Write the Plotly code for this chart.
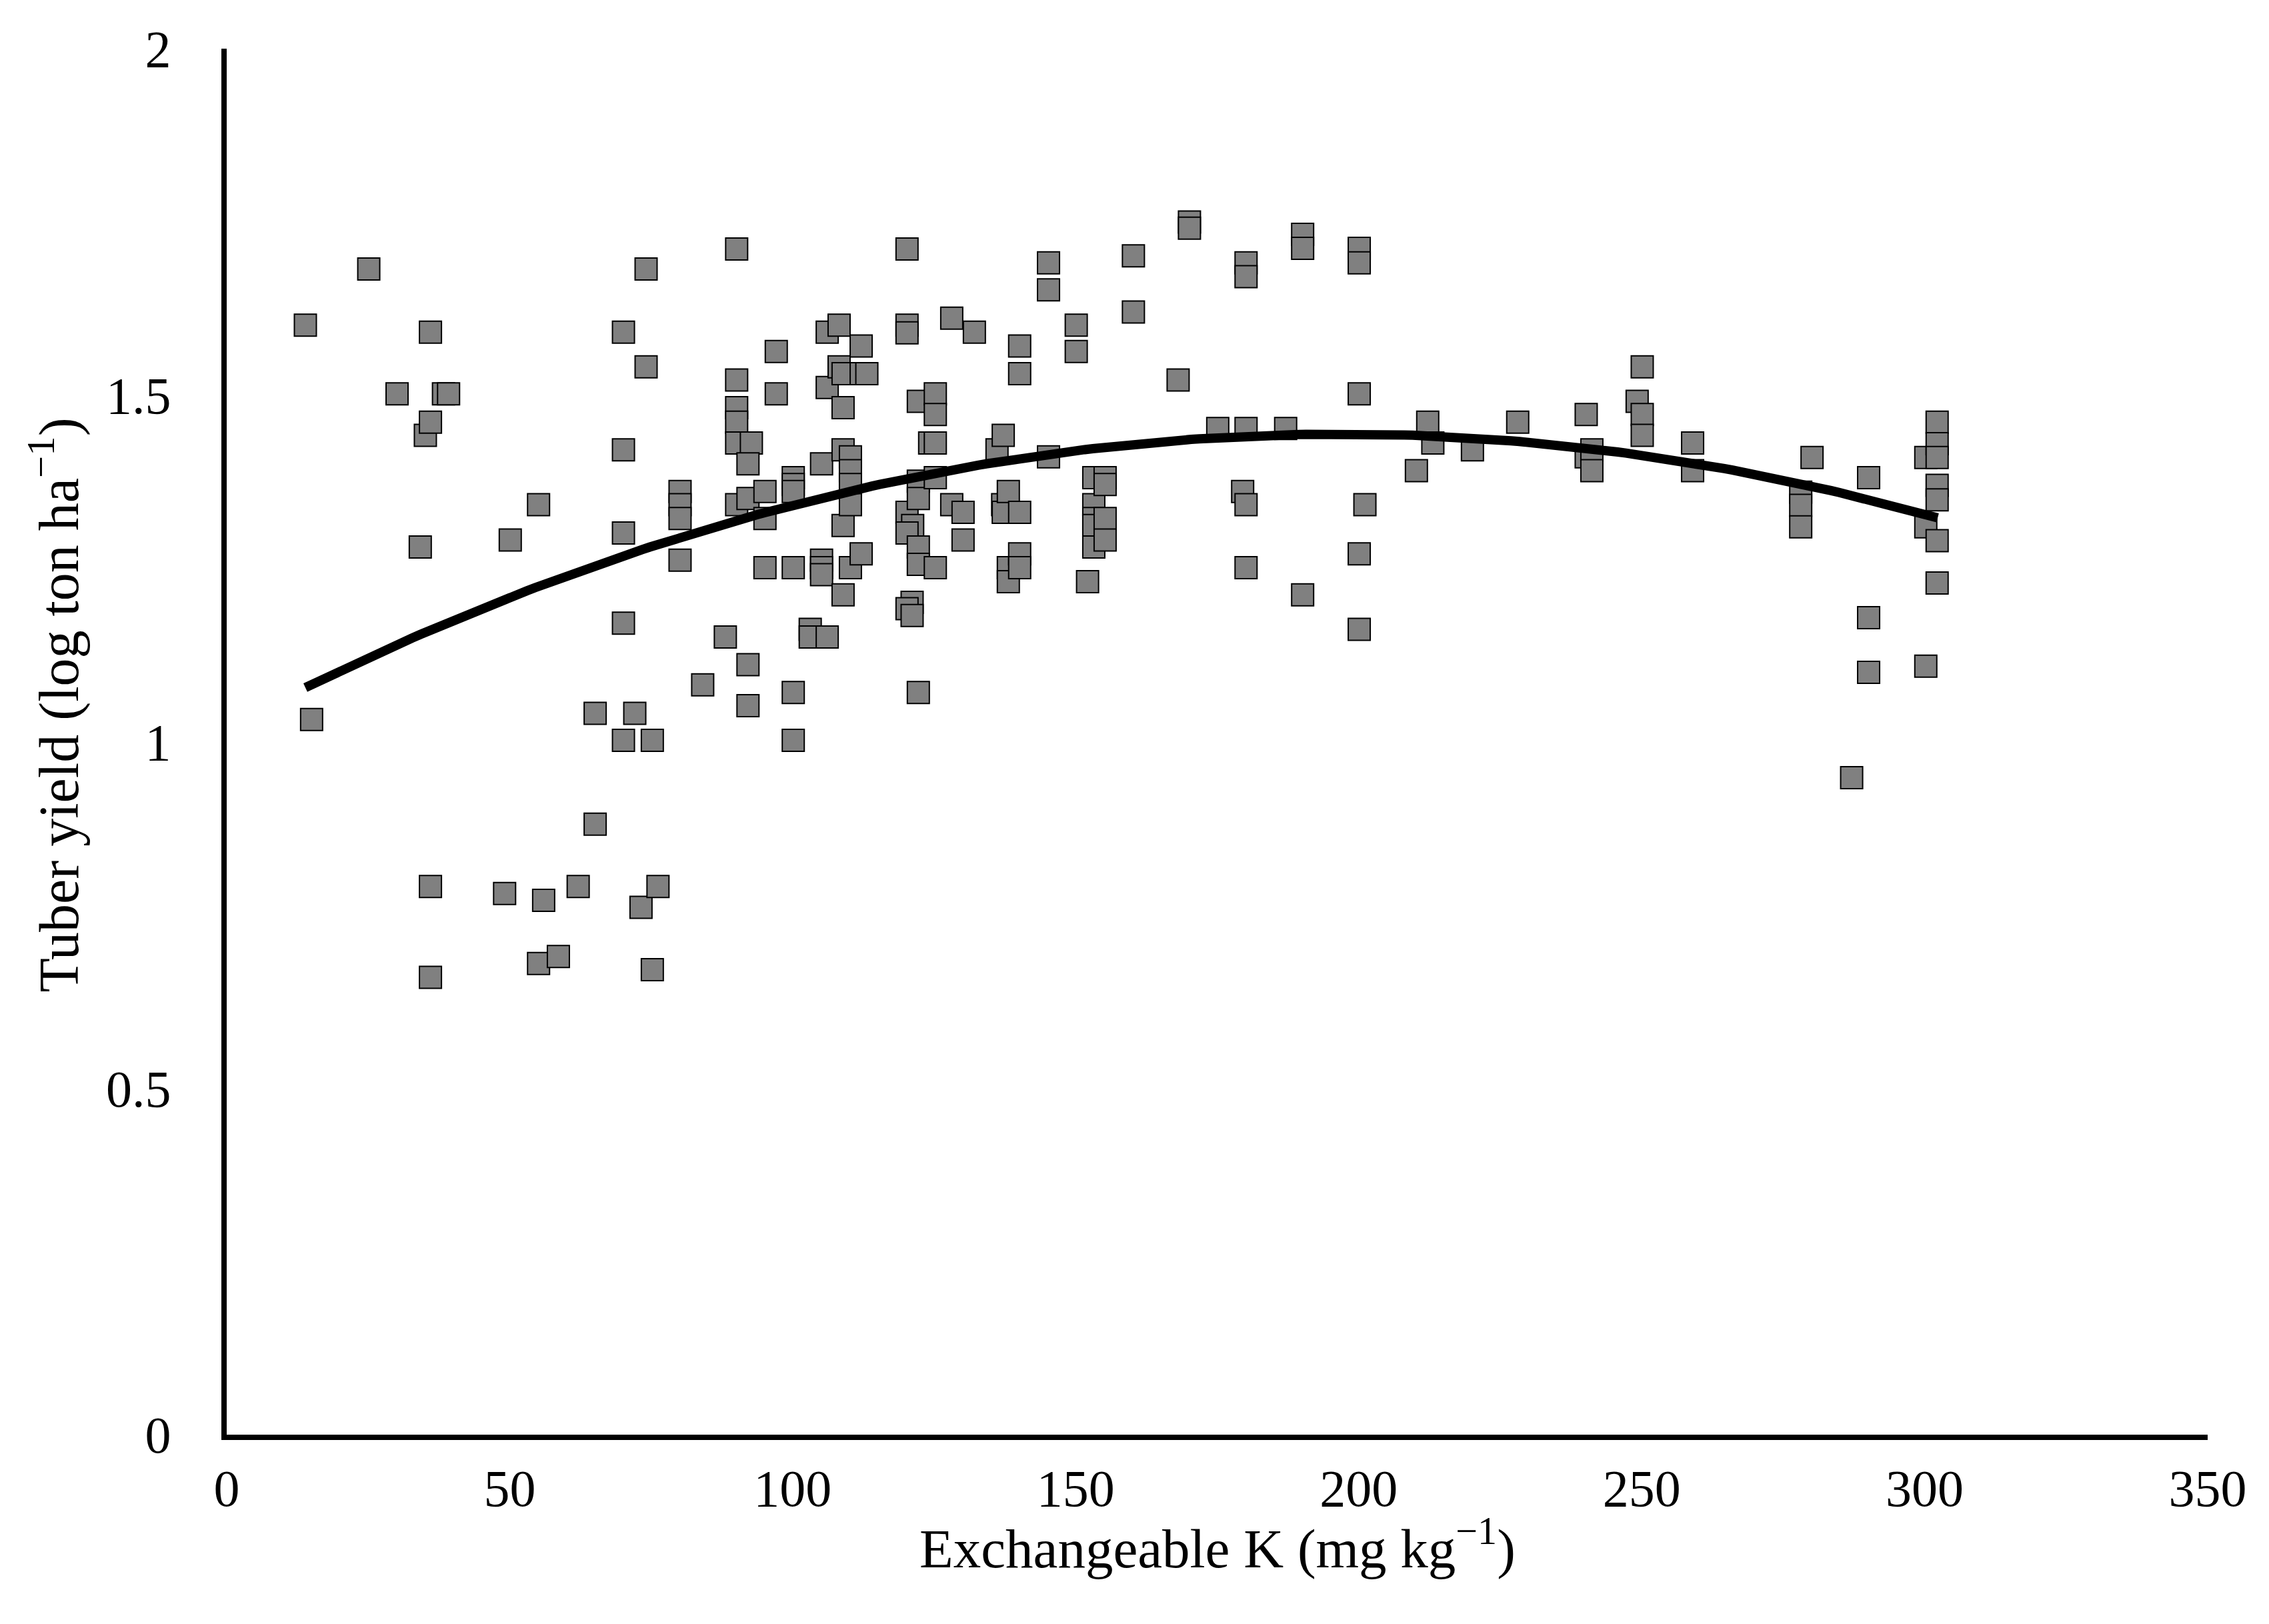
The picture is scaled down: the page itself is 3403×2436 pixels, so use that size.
import numpy as np
import plotly.graph_objects as go

# Exchangeable K (mg kg-1) and tuber yield (log ton ha-1)
k_values = [
    13.9, 15.0, 25.1, 30.1, 36.0, 35.1, 36.0, 38.3, 39.2, 34.2, 36.0, 36.0,
    50.1, 55.1, 49.1, 56.0, 55.1, 58.6, 62.1, 65.1, 65.1,
    70.1, 70.1, 70.1, 70.1, 70.1, 72.1, 73.2, 74.1, 74.1, 75.2, 75.2, 76.2,
    80.1, 80.1, 80.1, 80.1, 84.1, 88.1,
    90.1, 90.1, 90.1, 90.1, 90.1, 90.1, 92.1, 92.1, 92.7, 92.1, 92.1,
    95.1, 95.1, 95.1, 97.1, 97.1,
    100.1, 100.1, 100.1, 100.1, 100.1, 100.1,
    103.1, 103.1, 105.1, 105.1, 105.1, 105.1, 106.1, 106.1, 106.1,
    108.2, 108.2, 108.9, 108.9, 108.9, 108.9, 108.9,
    110.2, 110.2, 110.2, 110.2, 110.2, 112.1, 112.1, 113.1, 112.1,
    120.2, 120.2, 120.2, 120.2, 121.2, 120.2, 121.1, 120.2, 121.1,
    122.2, 122.2, 122.2, 122.2, 122.2, 122.2, 124.2, 125.2, 125.2, 125.2, 125.2, 125.2,
    128.1, 128.1, 130.1, 130.1, 132.1,
    136.1, 137.2, 137.1, 137.2, 138.1, 138.1, 138.1, 140.1, 140.1, 140.1, 140.1, 140.1,
    145.2, 145.2, 145.2, 150.1, 150.1, 152.1,
    153.2, 153.2, 153.2, 153.2, 153.2, 155.2, 155.2, 155.2, 155.2,
    160.2, 160.2, 168.1, 170.1, 170.1, 175.1,
    179.5, 180.1, 180.1, 180.1, 180.1, 180.1, 187.1,
    190.1, 190.1, 190.1, 200.1, 200.1, 200.1, 200.1, 200.1, 201.1,
    210.2, 212.2, 213.1, 220.1, 228.1, 240.2, 240.2, 241.2, 241.2,
    249.2, 250.1, 250.1, 250.1, 259.0, 259.0,
    278.1, 278.1, 278.1, 280.1, 290.1, 290.1, 290.1, 287.1,
    300.2, 300.2, 300.2, 302.2, 302.2, 302.2, 302.2, 302.2, 302.2, 302.2,
]
yield_values = [
    1.601, 1.032, 1.682, 1.502, 1.591, 1.442, 1.461, 1.502, 1.502, 1.281, 0.791, 0.660,
    1.291, 1.342, 0.781, 0.771, 0.680, 0.690, 0.791, 1.041, 0.881,
    1.591, 1.421, 1.301, 1.171, 1.002, 1.041, 0.761, 1.682, 1.541, 1.002, 0.671, 0.791,
    1.361, 1.342, 1.322, 1.262, 1.082, 1.151,
    1.711, 1.522, 1.482, 1.461, 1.431, 1.342, 1.111, 1.052, 1.431, 1.401, 1.351,
    1.322, 1.361, 1.251, 1.563, 1.502,
    1.381, 1.371, 1.361, 1.251, 1.071, 1.002,
    1.162, 1.151, 1.401, 1.262, 1.251, 1.241, 1.591, 1.511, 1.151,
    1.601, 1.541, 1.531, 1.482, 1.421, 1.312, 1.212,
    1.411, 1.391, 1.371, 1.342, 1.251, 1.571, 1.531, 1.531, 1.271,
    1.711, 1.601, 1.590, 1.331, 1.312, 1.301, 1.201, 1.192, 1.182,
    1.491, 1.376, 1.351, 1.281, 1.256, 1.071, 1.431, 1.502, 1.472, 1.431, 1.381, 1.251,
    1.611, 1.342, 1.331, 1.291, 1.591,
    1.421, 1.442, 1.342, 1.331, 1.361, 1.251, 1.231, 1.571, 1.531, 1.331, 1.271, 1.251,
    1.691, 1.652, 1.411, 1.601, 1.563, 1.231,
    1.381, 1.342, 1.322, 1.312, 1.281, 1.381, 1.371, 1.322, 1.291,
    1.701, 1.620, 1.522, 1.750, 1.741, 1.452,
    1.361, 1.691, 1.671, 1.452, 1.342, 1.251, 1.452,
    1.732, 1.712, 1.212, 1.712, 1.691, 1.502, 1.271, 1.162, 1.342,
    1.391, 1.461, 1.431, 1.421, 1.461, 1.472, 1.411, 1.421, 1.391,
    1.491, 1.541, 1.472, 1.442, 1.431, 1.391,
    1.360, 1.341, 1.310, 1.410, 1.381, 1.179, 1.100, 0.948,
    1.410, 1.310, 1.109, 1.461, 1.430, 1.410, 1.370, 1.349, 1.290, 1.229,
]

# Polynomial (order 2) trendline: y = a + b*x + c*x^2
trend_coeffs = [1.0204, 4.300e-3, -1.0914e-5]
trend_range = [13.9, 302.3]

x_ticks = [0, 50, 100, 150, 200, 250, 300, 350]
y_ticks = [0, 0.5, 1, 1.5, 2]
y_tick_labels = ["0", "0.5", "1", "1.5", "2"]

FONT = "Liberation Serif, Times New Roman, serif"

trend_x = np.linspace(trend_range[0], trend_range[1], 200)
trend_y = trend_coeffs[0] + trend_coeffs[1] * trend_x + trend_coeffs[2] * trend_x ** 2

fig = go.Figure()
fig.add_trace(go.Scatter(
    x=k_values, y=yield_values, mode="markers",
    marker=dict(symbol="square", size=33, color="#808080",
                line=dict(color="black", width=2)),
    showlegend=False, cliponaxis=False,
))
fig.add_trace(go.Scatter(
    x=trend_x, y=trend_y, mode="lines",
    line=dict(color="black", width=14),
    showlegend=False,
))

fig.update_layout(
    width=3403, height=2436,
    margin=dict(l=332, r=100, t=65, b=292, pad=0),
    paper_bgcolor="white", plot_bgcolor="white",
    font=dict(family=FONT, color="black", size=78),
    xaxis=dict(range=[0, 350], tickvals=x_ticks, showgrid=False, zeroline=False,
               showline=True, linecolor="black", linewidth=8, ticks="",
               ticklabelstandoff=5, tickfont=dict(family=FONT, size=78, color="black")),
    yaxis=dict(range=[0, 2], tickvals=y_ticks, ticktext=y_tick_labels, showgrid=False,
               zeroline=False, showline=True, linecolor="black", linewidth=8, ticks="",
               ticklabelstandoff=60, tickfont=dict(family=FONT, size=78, color="black")),
    annotations=[
        dict(text="Exchangeable K (mg kg<sup>\u22121</sup>)", xref="paper", yref="paper",
             x=0.5, y=-0.079, xanchor="center", yanchor="middle", showarrow=False,
             font=dict(family=FONT, size=83, color="black")),
        dict(text="Tuber yield (log ton ha<sup>\u22121</sup>)", xref="paper", yref="paper",
             x=-0.0867, y=0.5267, xanchor="center", yanchor="middle", showarrow=False,
             textangle=-90, font=dict(family=FONT, size=84, color="black")),
    ],
)

fig.write_html("out.html")
